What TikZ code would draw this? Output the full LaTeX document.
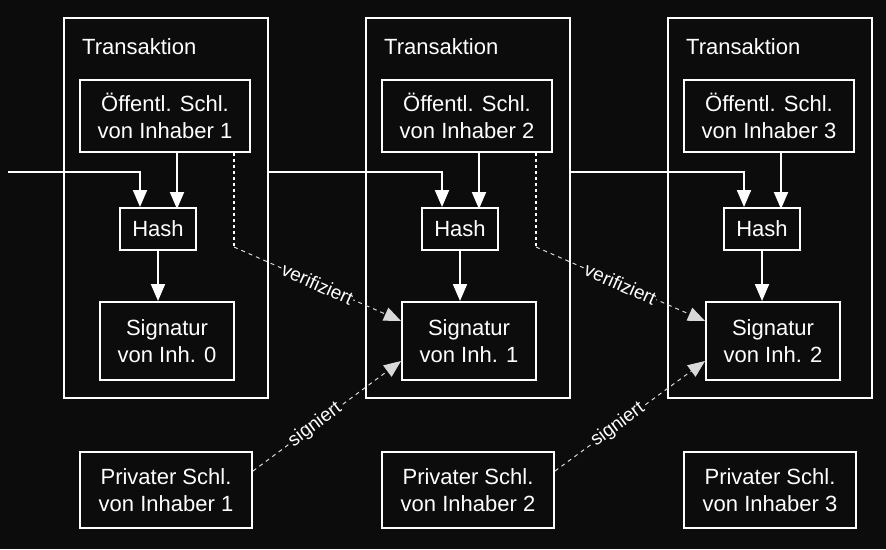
\documentclass[tikz,border=0pt]{standalone}
\usepackage{fontspec}
\setmainfont{Liberation Sans}
\usetikzlibrary{arrows.meta}
\definecolor{bg}{HTML}{0C0C0C}
\begin{document}
\begin{tikzpicture}[x=1pt,y=-1pt,
  every node/.style={text=white,font=\fontsize{22}{27}\selectfont},
  box/.style={draw=white,line width=2pt,align=center,inner sep=0pt},
  ln/.style={draw=white,line width=2pt},
  tip/.style={-{Triangle[length=17pt,width=14pt]}},
  thin/.style={draw=white!85!black,line width=1pt,dash pattern=on 4pt off 4pt},
  lab/.style={fill=bg,inner sep=1pt,font=\fontsize{19}{22}\selectfont}]
\fill[bg] (0,0) rectangle (886,549);
\useasboundingbox (0,0) rectangle (886,549);
\foreach \i/\x/\n in {1/64/1,2/366/2,3/668/3}{
  \node[box,minimum width=204pt,minimum height=380pt] (t\i) at (\x+102,208) {};
  \node[anchor=west,inner sep=0pt] (tl\i) at (\x+18,47) {Transaktion};
  \node[box,minimum width=170pt,minimum height=72pt] (p\i) at (\x+101,116) {Öffentl. Schl.\\von Inhaber \n};
  \node[box,minimum width=76pt,minimum height=42pt] (h\i) at (\x+94,229) {Hash};
  \node[box,minimum width=172pt,minimum height=76pt] (k\i) at (\x+102,490) {Privater Schl.\\von Inhaber \n};
  \draw[ln,tip] (p\i.south -| h\i.north east) ++(-20,0) -- ++(0,56);
}
\foreach \i/\x/\n in {1/100/0,2/402/1,3/706/2}{
  \node[box,minimum width=134pt,minimum height=78pt] (s\i) at (\x+67,341) {Signatur\\von Inh. \n};
  \draw[ln,tip] (h\i.south) -- (h\i.south |- s\i.north);
}
\coordinate (in) at (8,172);
\draw[ln,tip] (in) -| ([xshift=-18pt]h1.north);
\draw[ln,tip] (t1.east |- 0,172) -| ([xshift=-18pt]h2.north);
\draw[ln,tip] (t2.east |- 0,172) -| ([xshift=-18pt]h3.north);
\foreach \a/\b in {1/2,2/3}{
  \coordinate (v\a) at ([xshift=-17pt]p\a.south east |- 0,247);
  \draw[white,line width=2.5pt,dash pattern=on 3pt off 3pt] ([xshift=-17pt]p\a.south east) -- (v\a);
  \draw[thin,tip] (v\a) -- node[lab,sloped,pos=0.5]{verifiziert} ([yshift=20pt]s\b.west);
  \draw[thin,tip] ([yshift=19pt]k\a.east) -- node[lab,sloped,pos=0.42]{signiert} ([yshift=-20pt]s\b.west);
}
\end{tikzpicture}
\end{document}
